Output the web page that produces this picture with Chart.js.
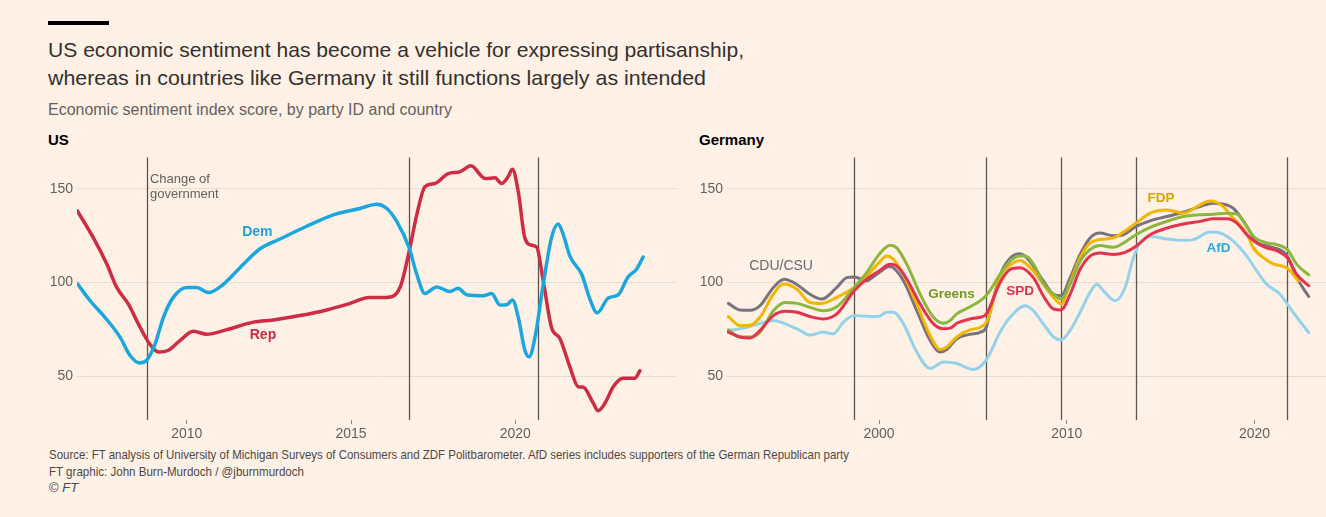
<!DOCTYPE html>
<html>
<head>
<meta charset="utf-8">
<script src="https://cdn.jsdelivr.net/npm/chart.js@4.4.1/dist/chart.umd.min.js"></script>
<style>
  body { margin: 0; width: 1326px; height: 517px; overflow: hidden; position: relative;
         background: #fff1e5; font-family: "Liberation Sans", Arial, sans-serif; }
  .t { position: absolute; white-space: nowrap; transform-origin: 0 0; }
  canvas { position: absolute; top: 145px; }
</style>
</head>
<body>
<div style="position:absolute;left:48px;top:21px;width:61px;height:4px;background:#000"></div>
<div class="t" data-w="696" style="left:48px;top:39px;font-size:21px;line-height:21px;color:#33302e">US economic sentiment has become a vehicle for expressing partisanship,</div>
<div class="t" data-w="658" style="left:48px;top:67.3px;font-size:21px;line-height:21px;color:#33302e">whereas in countries like Germany it still functions largely as intended</div>
<div class="t" data-w="404" style="left:48px;top:101.5px;font-size:16px;line-height:16px;color:#66605c">Economic sentiment index score, by party ID and country</div>
<div class="t" style="left:48px;top:131.5px;font-size:15px;line-height:15px;font-weight:bold;color:#000">US</div>
<div class="t" style="left:699px;top:131.5px;font-size:15px;line-height:15px;font-weight:bold;color:#000">Germany</div>
<div class="t" data-w="800" style="left:49px;top:448.3px;font-size:13px;line-height:13px;color:#4d4845">Source: FT analysis of University of Michigan Surveys of Consumers and ZDF Politbarometer. AfD series includes supporters of the German Republican party</div>
<div class="t" data-w="255" style="left:49px;top:464.5px;font-size:13px;line-height:13px;color:#4d4845">FT graphic: John Burn-Murdoch / @jburnmurdoch</div>
<div class="t" style="left:49px;top:481px;font-size:13px;line-height:13px;color:#4d4845">© <i>FT</i></div>

<canvas id="usChart" width="690" height="300" style="left:0"></canvas>
<canvas id="deChart" width="636" height="300" style="left:690px"></canvas>

<script>
// ---- US ----
const demX = [2006.67, 2007.06, 2007.51, 2007.97, 2008.27, 2008.56, 2008.78, 2009.04, 2009.29, 2009.59,
  2010.0, 2010.30, 2010.66, 2011.06, 2011.62, 2012.23, 2012.84, 2013.65, 2014.46, 2015.27,
  2015.78, 2016.08, 2016.39, 2016.77, 2017.0, 2017.25, 2017.61, 2018.01, 2018.26, 2018.52,
  2019.02, 2019.28, 2019.53, 2019.74, 2019.91, 2020.09, 2020.29, 2020.42, 2020.60, 2020.85,
  2021.10, 2021.30, 2021.46, 2021.66, 2022.02, 2022.27, 2022.49, 2022.83, 2023.13, 2023.43,
  2023.69, 2023.89];
const demY = [99.5, 90.3, 81.5, 70.9, 61.3, 57.2, 58.6, 67.5, 81.5, 92.1,
  97.4, 97.4, 94.7, 98.3, 107.9, 118.0, 123.2, 130.0, 136.1, 139.5,
  141.7, 139.6, 132.6, 118.5, 104.4, 94.2, 97.7, 95.2, 97.0, 93.5,
  93.0, 94.2, 88.1, 88.2, 90.7, 81.5, 63.9, 60.4, 70.9, 99.1,
  123.8, 131.2, 125.6, 114.1, 104.4, 91.2, 83.8, 91.8, 93.5, 103.0,
  107.1, 113.6];
const repX = [2006.67, 2007.16, 2007.57, 2007.87, 2008.22, 2008.58, 2008.88, 2009.14, 2009.44, 2009.80,
  2010.20, 2010.61, 2011.22, 2012.03, 2012.63, 2013.45, 2014.26, 2014.97, 2015.55, 2016.08,
  2016.49, 2016.77, 2017.0, 2017.25, 2017.55, 2017.96, 2018.31, 2018.65, 2019.08, 2019.38,
  2019.58, 2019.78, 2019.91, 2020.09, 2020.29, 2020.50, 2020.65, 2020.85, 2021.10, 2021.36,
  2021.66, 2021.91, 2022.07, 2022.37, 2022.52, 2022.73, 2022.98, 2023.28, 2023.64, 2023.79];
const repY = [138.2, 123.8, 109.7, 97.4, 88.6, 76.2, 67.1, 63.0, 63.9, 69.2,
  74.1, 72.4, 74.9, 78.9, 80.1, 82.4, 85.4, 88.9, 92.1, 92.1,
  97.4, 116.7, 136.1, 151.1, 152.8, 158.1, 159.0, 162.2, 155.5, 155.8,
  152.8, 156.4, 160.4, 148.4, 123.8, 119.9, 118.9, 100.9, 76.2, 70.1,
  55.1, 44.5, 44.2, 35.8, 31.7, 35.8, 44.5, 49.0, 49.0, 53.0];
const usChanges = [2008.78, 2016.77, 2020.68];
const usXTicks = [2010, 2015, 2020];

// ---- Germany ----
const cduX = [1991.97, 1992.59, 1993.13, 1993.66, 1994.37, 1994.95, 1995.62, 1996.32, 1996.95, 1997.75,
  1998.28, 1998.68, 1999.34, 1999.88, 2000.59, 2001.30, 2002.01, 2002.72, 2003.26, 2003.61,
  2004.14, 2004.85, 2005.38, 2005.70, 2006.05, 2006.45, 2006.98, 2007.51, 2007.78, 2008.22,
  2008.75, 2009.29, 2009.70, 2010.18, 2010.71, 2011.24, 2011.77, 2012.48, 2013.02, 2013.69,
  2014.44, 2015.33, 2016.21, 2017.10, 2017.81, 2018.52, 2018.88, 2019.59, 2020.12, 2020.65,
  2021.36, 2021.75, 2022.25, 2022.89];
const cduY = [88.9, 85.4, 85.2, 87.7, 97.4, 101.8, 99.0, 93.8, 91.2, 97.4,
  102.6, 103.0, 101.0, 104.5, 108.5, 101.0, 85.0, 69.2, 63.0, 64.3,
  70.1, 72.4, 73.5, 76.0, 90.0, 104.0, 112.9, 115.3, 114.1, 108.8,
  100.9, 93.8, 93.0, 102.6, 115.0, 123.8, 126.4, 125.0, 125.5, 129.9,
  132.9, 135.2, 137.5, 140.5, 142.3, 141.4, 139.5, 130.0, 121.5, 119.5,
  117.5, 114.1, 102.6, 92.6];
const fdpX = [1991.97, 1992.59, 1993.13, 1993.66, 1994.37, 1994.90, 1995.62, 1996.32, 1996.95, 1997.75,
  1998.68, 1999.34, 2000.0, 2000.41, 2000.77, 2001.30, 2002.01, 2002.72, 2003.26, 2003.61,
  2004.14, 2004.85, 2005.70, 2006.45, 2007.16, 2007.51, 2008.22, 2008.75, 2009.29, 2009.70,
  2010.18, 2010.71, 2011.24, 2011.77, 2012.48, 2013.02, 2013.69, 2014.44, 2015.33, 2016.21,
  2017.10, 2017.63, 2018.34, 2018.70, 2019.59, 2019.94, 2020.65, 2021.0, 2021.75, 2022.34];
const fdpY = [81.9, 77.1, 77.3, 81.5, 93.8, 99.2, 96.5, 89.4, 88.9, 92.1,
  97.4, 103.5, 110.6, 114.1, 112.3, 104.4, 88.6, 71.8, 64.3, 65.7,
  71.0, 74.8, 78.5, 103.0, 110.5, 111.8, 106.2, 99.1, 92.1, 88.6,
  100.0, 113.2, 121.1, 122.9, 123.8, 126.9, 131.7, 137.0, 138.7, 137.0,
  141.4, 143.5, 140.5, 136.1, 126.0, 118.5, 112.0, 110.0, 107.6, 100.9];
const greensX = [1991.97, 1992.59, 1993.13, 1993.66, 1994.37, 1995.0, 1995.62, 1996.32, 1997.03, 1997.75,
  1998.68, 1999.34, 2000.0, 2000.59, 2000.94, 2001.48, 2002.19, 2002.90, 2003.43, 2003.79,
  2004.14, 2004.85, 2005.70, 2006.45, 2006.98, 2007.51, 2007.78, 2008.22, 2008.75, 2009.29,
  2009.70, 2010.18, 2010.71, 2011.24, 2011.77, 2012.48, 2013.02, 2013.69, 2014.44, 2015.33,
  2016.21, 2017.10, 2017.81, 2018.52, 2019.06, 2019.59, 2019.94, 2020.65, 2021.19, 2021.75,
  2022.25, 2022.89];
const greensY = [74.8, 71.0, 71.0, 73.6, 85.0, 89.4, 88.9, 86.8, 85.0, 87.1,
  97.4, 105.3, 115.0, 119.9, 118.5, 109.7, 93.8, 81.5, 78.3, 79.8,
  83.3, 87.1, 93.0, 104.4, 111.4, 114.1, 114.1, 110.0, 99.5, 93.8,
  91.2, 99.1, 111.4, 117.6, 119.7, 118.8, 121.1, 125.5, 129.4, 132.6,
  135.2, 136.1, 136.4, 137.0, 136.5, 130.0, 124.7, 121.1, 120.2, 117.6,
  109.7, 104.1];
const spdX = [1991.97, 1992.59, 1993.13, 1993.66, 1994.37, 1995.0, 1995.62, 1996.32, 1997.03, 1997.75,
  1998.68, 1999.34, 2000.0, 2000.59, 2000.94, 2001.48, 2002.19, 2002.90, 2003.43, 2003.79,
  2004.14, 2004.85, 2005.38, 2005.70, 2006.45, 2006.98, 2007.51, 2008.22, 2008.75, 2009.29,
  2009.70, 2010.18, 2010.71, 2011.24, 2011.77, 2012.48, 2013.02, 2013.69, 2014.44, 2015.33,
  2016.21, 2017.10, 2017.81, 2018.52, 2019.06, 2019.59, 2020.12, 2020.65, 2021.19, 2021.75,
  2022.25, 2022.89];
const spdY = [73.6, 71.0, 70.5, 74.5, 82.4, 84.7, 84.2, 81.9, 80.6, 83.3,
  95.6, 101.8, 106.2, 109.7, 108.8, 101.8, 88.6, 78.0, 75.4, 75.7,
  78.3, 80.6, 81.5, 83.0, 100.0, 107.0, 107.9, 102.6, 93.0, 85.9,
  85.4, 93.8, 107.0, 114.1, 115.8, 115.0, 115.8, 119.4, 125.5, 129.0,
  131.2, 132.6, 134.0, 134.0, 131.7, 125.5, 121.1, 118.5, 117.0, 113.2,
  104.4, 98.3];
const afdX = [1991.97, 1992.59, 1993.48, 1994.37, 1995.0, 1995.79, 1996.32, 1997.03, 1997.57, 1998.10,
  1998.68, 1999.52, 2000.0, 2000.41, 2000.77, 2001.30, 2002.01, 2002.72, 2003.43, 2004.14,
  2004.99, 2005.70, 2006.45, 2006.98, 2007.78, 2008.22, 2008.75, 2009.29, 2009.70, 2010.18,
  2010.71, 2011.24, 2011.60, 2011.95, 2012.57, 2013.11, 2013.55, 2013.91, 2014.44, 2015.33,
  2016.21, 2016.75, 2017.63, 2018.17, 2018.88, 2019.59, 2020.12, 2020.65, 2021.36, 2022.07,
  2022.89];
const afdY = [74.5, 75.4, 77.6, 79.8, 78.0, 74.5, 72.0, 73.6, 72.7, 78.9,
  82.4, 81.9, 82.0, 84.2, 84.2, 78.0, 63.0, 54.2, 57.7, 56.9,
  53.7, 58.6, 73.6, 81.5, 87.7, 85.0, 78.0, 71.0, 69.5, 74.5,
  84.2, 94.7, 99.1, 95.6, 90.3, 97.4, 113.2, 121.1, 124.6, 123.2,
  122.5, 122.9, 126.9, 126.4, 122.0, 114.1, 106.2, 99.1, 93.8, 84.0,
  73.3];
const deElections = [1998.68, 2005.70, 2009.70, 2013.69, 2021.72];
const deXTicks = [2000, 2010, 2020];

const yTicks = [50, 100, 150];

const pts = (xs, ys) => xs.map((x, i) => ({ x: x, y: ys[i] }));

Chart.defaults.font.family = '"Liberation Sans", Arial, sans-serif';

const marks = {
  id: 'marks',
  beforeDatasetsDraw(chart) {
    const o = chart.options.plugins.marks;
    const ctx = chart.ctx, a = chart.chartArea, x = chart.scales.x;
    ctx.save();
    ctx.strokeStyle = '#5b5552';
    ctx.lineWidth = 1.3;
    o.lines.forEach(v => {
      const px = Math.round(x.getPixelForValue(v)) + 0.5;
      ctx.beginPath();
      ctx.moveTo(px, a.top);
      ctx.lineTo(px, a.bottom);
      ctx.stroke();
    });
    ctx.restore();
  },
  afterDatasetsDraw(chart) {
    const o = chart.options.plugins.marks;
    const ctx = chart.ctx, x = chart.scales.x, y = chart.scales.y;
    ctx.save();
    ctx.textBaseline = 'middle';
    o.notes.forEach(n => {
      ctx.font = (n.bold ? 'bold ' : '') + n.size + 'px "Liberation Sans", Arial, sans-serif';
      ctx.fillStyle = n.color;
      ctx.textAlign = n.align || 'center';
      ctx.fillText(n.text, x.getPixelForValue(n.x), y.getPixelForValue(n.y));
    });
    ctx.restore();
  }
};

function makeChart(id, datasets, xMin, xMax, xTicks, yWidth, rightPad, lineW, lines, notes) {
  return new Chart(document.getElementById(id), {
    type: 'line',
    data: { datasets: datasets },
    options: {
      responsive: false,
      animation: false,
      parsing: false,
      layout: { padding: { top: 10, right: rightPad, left: 0, bottom: 0 } },
      elements: {
        point: { radius: 0 },
        line: { borderWidth: lineW, cubicInterpolationMode: 'monotone', borderJoinStyle: 'round', borderCapStyle: 'round' }
      },
      plugins: {
        legend: { display: false },
        tooltip: { enabled: false },
        marks: { lines: lines, notes: notes }
      },
      scales: {
        x: {
          type: 'linear', min: xMin, max: xMax,
          afterBuildTicks: s => { s.ticks = xTicks.map(v => ({ value: v })); },
          afterFit: s => { s.height = 25; },
          border: { display: false },
          grid: { drawOnChartArea: false, drawTicks: true, tickLength: 4, color: '#8f8882' },
          ticks: { color: '#66605c', font: { size: 14 }, padding: 2, maxRotation: 0, callback: v => String(v) }
        },
        y: {
          min: 26.76, max: 166.7,
          afterBuildTicks: s => { s.ticks = yTicks.map(v => ({ value: v })); },
          afterFit: s => { s.width = yWidth; },
          border: { display: false },
          grid: { drawTicks: false, color: '#e8dcd1', lineWidth: 1 },
          ticks: { color: '#66605c', font: { size: 14 }, padding: 4, callback: v => String(v) }
        }
      }
    },
    plugins: [marks]
  });
}

makeChart('usChart', [
  { label: 'Dem', data: pts(demX, demY), borderColor: '#1ba6df' },
  { label: 'Rep', data: pts(repX, repY), borderColor: '#cd2c43' }
], 2006.66, 2024.89, usXTicks, 77, 14, 3.5, usChanges, [
  { text: 'Change of', x: 2008.88, y: 154.9, color: '#66605c', size: 13, align: 'left' },
  { text: 'government', x: 2008.88, y: 147.2, color: '#66605c', size: 13, align: 'left' },
  { text: 'Dem', x: 2012.15, y: 126.9, color: '#1aa3dd', size: 14, bold: true },
  { text: 'Rep', x: 2012.32, y: 71.8, color: '#cc2a41', size: 14, bold: true }
]);

makeChart('deChart', [
  { label: 'SPD', data: pts(spdX, spdY), borderColor: '#e3344f' },
  { label: 'Greens', data: pts(greensX, greensY), borderColor: '#8db63f' },
  { label: 'FDP', data: pts(fdpX, fdpY), borderColor: '#f2b600' },
  { label: 'CDU/CSU', data: pts(cduX, cduY), borderColor: '#78737f' },
  { label: 'AfD', data: pts(afdX, afdY), borderColor: '#93d2ea' }
], 1991.90, 2023.81, deXTicks, 37, 0, 3, deElections, [
  { text: 'CDU/CSU', x: 1994.78, y: 108.5, color: '#6c6673', size: 14 },
  { text: 'Greens', x: 2003.86, y: 93.9, color: '#6e9a26', size: 13.5, bold: true },
  { text: 'SPD', x: 2007.51, y: 95.1, color: '#e1304b', size: 13.5, bold: true },
  { text: 'FDP', x: 2015.02, y: 144.9, color: '#d9a300', size: 13.5, bold: true },
  { text: 'AfD', x: 2018.08, y: 118.2, color: '#2fa9dd', size: 13.5, bold: true }
]);

document.querySelectorAll('[data-w]').forEach(el => {
  const w = el.getBoundingClientRect().width;
  el.style.transform = 'scaleX(' + (el.dataset.w / w) + ')';
});
</script>
</body>
</html>
